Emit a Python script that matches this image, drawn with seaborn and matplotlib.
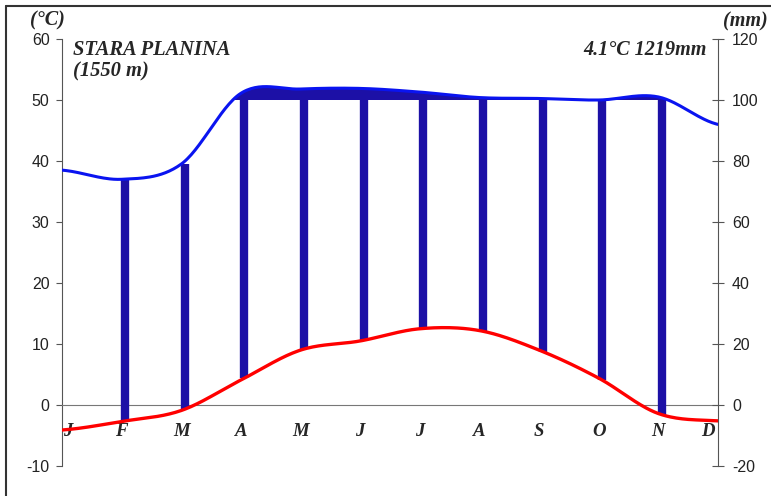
import numpy as np
import pandas as pd
import matplotlib
matplotlib.use("Agg")
import matplotlib.pyplot as plt
from matplotlib.lines import Line2D
import seaborn as sns

# ----------------------------
# DATA
# ----------------------------
MONTHS = ["J", "F", "M", "A", "M", "J", "J", "A", "S", "O", "N", "D"]
TEMP = [-4.1, -2.7, -0.9, 4.1, 9.0, 10.5, 12.5, 12.2, 9.0, 4.4, -1.4, -2.6]   # deg C
PRECIP = [77, 74, 79, 122, 136, 138, 126, 108, 105, 100, 110, 92]             # mm
STATION = "STARA PLANINA"
ALTITUDE = "(1550 m)"
SUMMARY = "4.1°C 1219mm"
TEMP_TICKS = [-10, 0, 10, 20, 30, 40, 50, 60]
PRECIP_TICKS = [-20, 0, 20, 40, 60, 80, 100, 120]

# ----------------------------
# STYLE
# ----------------------------
sns.set_style("white")
plt.rcParams["font.family"] = ["Liberation Sans", "DejaVu Sans"]
plt.rcParams["axes.unicode_minus"] = False
SERIF = ["Liberation Serif", "DejaVu Serif"]
RED = "#ff0000"
BLUE = "#0a14f0"
NAVY = "#1c10a6"
SPINE = "#555555"


def compress(p):
    """Walter-Lieth: above 100 mm the scale is reduced to 1/10."""
    p = np.asarray(p, float)
    return np.where(p > 100, 100 + (p - 100) / 10.0, p)


def smooth(y, n=30):
    """Catmull-Rom curve through the monthly points (like a smoothed line chart)."""
    y = np.asarray(y, float)
    p = np.concatenate([[y[0]], y, [y[-1]]])
    xs, ys = [], []
    t = np.linspace(0, 1, n, endpoint=False)
    for i in range(len(y) - 1):
        p0, p1, p2, p3 = p[i], p[i + 1], p[i + 2], p[i + 3]
        v = 0.5 * (2 * p1 + (-p0 + p2) * t + (2 * p0 - 5 * p1 + 4 * p2 - p3) * t ** 2
                   + (-p0 + 3 * p1 - 3 * p2 + p3) * t ** 3)
        xs.append(i + t)
        ys.append(v)
    xs.append([len(y) - 1])
    ys.append([y[-1]])
    return np.concatenate(xs), np.concatenate(ys)


x_idx = np.arange(len(MONTHS))
p_plot = compress(PRECIP)
tx, ty = smooth(TEMP)
px, py = smooth(p_plot)
curves = pd.DataFrame({"x": px, "precip": py})

# ----------------------------
# FIGURE
# ----------------------------
fig = plt.figure(figsize=(7.71, 4.96), dpi=100)
ax = fig.add_axes([62 / 771, 1 - 466 / 496, 656 / 771, 427 / 496])
ax2 = ax.twinx()

ax.set_xlim(0, len(MONTHS) - 1)
ax.set_ylim(-10, 60)
ax2.set_ylim(-20, 120)

# humid months: bars from temperature curve up to precipitation (capped at 100 mm)
bar_m = [i for i in x_idx[1:-1] if p_plot[i] > 2 * TEMP[i]]
ax2.vlines([x_idx[i] + 0.06 for i in bar_m],
           [2 * np.interp(x_idx[i] + 0.06, tx, ty) for i in bar_m],
           [min(p_plot[i], 100) for i in bar_m],
           color=NAVY, lw=6, capstyle="butt", zorder=2)

# precipitation above 100 mm (compressed scale), filled
ax2.fill_between(curves["x"], 100, curves["precip"], where=curves["precip"] > 100,
                 color=NAVY, lw=0, zorder=3, interpolate=True)

sns.lineplot(data=curves, x="x", y="precip", ax=ax2, color=BLUE, lw=2.2,
             sort=False, estimator=None, zorder=4)
sns.lineplot(x=tx, y=ty * 2, ax=ax2, color=RED, lw=2.4,
             sort=False, estimator=None, zorder=5)

# ----------------------------
# AXES
# ----------------------------
for a in (ax, ax2):
    a.spines["top"].set_visible(False)
    a.set_xlabel("")
    a.set_ylabel("")
ax.spines["right"].set_visible(False)
ax2.spines["left"].set_visible(False)
ax2.spines["bottom"].set_visible(False)
ax.spines["bottom"].set_position(("data", 0))
ax.spines["bottom"].set_color("#777777")
ax.spines["left"].set_color(SPINE)
ax2.spines["right"].set_color(SPINE)

ax.set_xticks(x_idx[1:-1])
ax.set_xticklabels([])
ax.tick_params(axis="x", direction="out", length=3, color="#777777")
ax.set_yticks(TEMP_TICKS)
ax.tick_params(axis="y", direction="out", length=4, color=SPINE, labelsize=11.5, pad=5,
               labelcolor="#222222")
ax2.set_yticks(PRECIP_TICKS)
ax2.tick_params(axis="y", direction="inout", length=8, color=SPINE, labelsize=11.5, pad=6,
                labelcolor="#222222")

# month labels below the zero line (end labels pulled inside the frame)
label_x = list(x_idx.astype(float))
label_x[0] += 0.1
label_x[-1] -= 0.17
for xm, name in zip(label_x, MONTHS):
    ax.text(xm, -4.4, name, ha="center", va="center", fontsize=13.5,
            fontweight="bold", fontstyle="italic", family=SERIF)

# titles
ax.text(0.017, 0.9625, STATION, transform=ax.transAxes, ha="left", va="baseline",
        fontsize=14.8, fontweight="bold", fontstyle="italic", family=SERIF)
ax.text(0.017, 0.913, ALTITUDE, transform=ax.transAxes, ha="left", va="baseline",
        fontsize=14.8, fontweight="bold", fontstyle="italic", family=SERIF)
ax.text(0.983, 0.9625, SUMMARY, transform=ax.transAxes, ha="right", va="baseline",
        fontsize=14.5, fontweight="bold", fontstyle="italic", family=SERIF)
fig.text(47 / 771, 1 - 25 / 496, "(°C)", ha="center", va="baseline", fontsize=14.5,
         fontweight="bold", fontstyle="italic", family=SERIF)
fig.text(745 / 771, 1 - 26 / 496, "(mm)", ha="center", va="baseline", fontsize=14.5,
         fontweight="bold", fontstyle="italic", family=SERIF)

# picture frame (top and left edges visible)
fig.add_artist(Line2D([6 / 771, 1], [1 - 6 / 496] * 2, color="#333333", lw=1.5))
fig.add_artist(Line2D([6 / 771] * 2, [0, 1 - 6 / 496], color="#333333", lw=1.5))

fig.savefig("out.png", dpi=100)
